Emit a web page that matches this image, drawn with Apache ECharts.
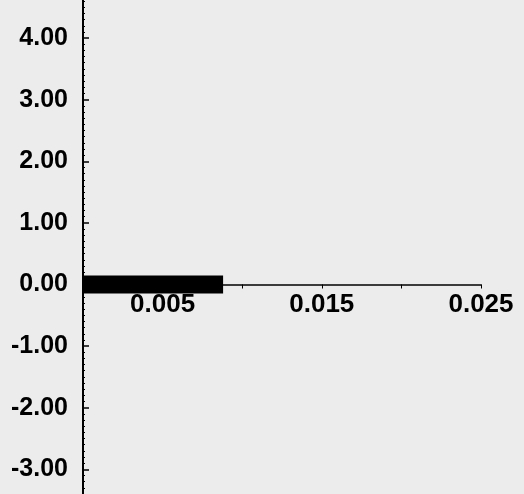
<!DOCTYPE html>
<html>
<head>
<meta charset="utf-8">
<script src="https://cdn.jsdelivr.net/npm/echarts@6/dist/echarts.min.js"></script>
<style>html,body{margin:0;padding:0;background:#ececec;}#c{width:524px;height:494px;}</style>
</head>
<body>
<div id="c"></div>
<script>
// Data
const barX = [0, 0.0088];
const barY = [0, 0];
const xTickLabels = ['0.005', '0.015', '0.025'];
const yTickLabels = ['-3.00', '-2.00', '-1.00', '0.00', '1.00', '2.00', '3.00', '4.00'];

const chart = echarts.init(document.getElementById('c'), null, {renderer: 'canvas'});
chart.setOption({
  animation: false,
  backgroundColor: '#ececec',
  grid: {left: 83, right: 43, top: -23.5, bottom: -36.9, containLabel: false, outerBoundsMode: 'none'},
  xAxis: {
    type: 'value', min: 0, max: 0.025, interval: 0.005,
    offset: -246.4,
    axisLine: {onZero: false, lineStyle: {color: '#000', width: 1.5}},
    axisTick: {show: true, length: 4, lineStyle: {color: '#000', width: 1}},
    splitLine: {show: false},
    axisLabel: {
      margin: 7, color: '#000', fontFamily: 'Liberation Sans', fontWeight: 'bold', fontSize: 26,
      formatter: v => { const s = v.toFixed(3); return xTickLabels.includes(s) ? s : ''; }
    }
  },
  yAxis: {
    type: 'value', min: -4, max: 5, interval: 1,
    axisLine: {show: true, onZero: false, lineStyle: {color: '#000', width: 2}},
    axisTick: {show: true, inside: true, length: 6, lineStyle: {color: '#000', width: 1.5}},
    minorTick: {show: true, splitNumber: 10, length: 2, lineStyle: {color: '#000', width: 1}},
    splitLine: {show: false},
    axisLabel: {
      margin: 15, color: '#000', fontFamily: 'Liberation Sans', fontWeight: 'bold', fontSize: 25,
      formatter: v => { const s = v.toFixed(2); return yTickLabels.includes(s) ? s : ''; }
    }
  },
  series: [{
    type: 'line',
    data: barX.map((x, i) => [x, barY[i]]),
    showSymbol: false,
    symbol: 'none',
    lineStyle: {color: '#000', width: 18, cap: 'butt'},
    z: 1
  }]
});
</script>
</body>
</html>
